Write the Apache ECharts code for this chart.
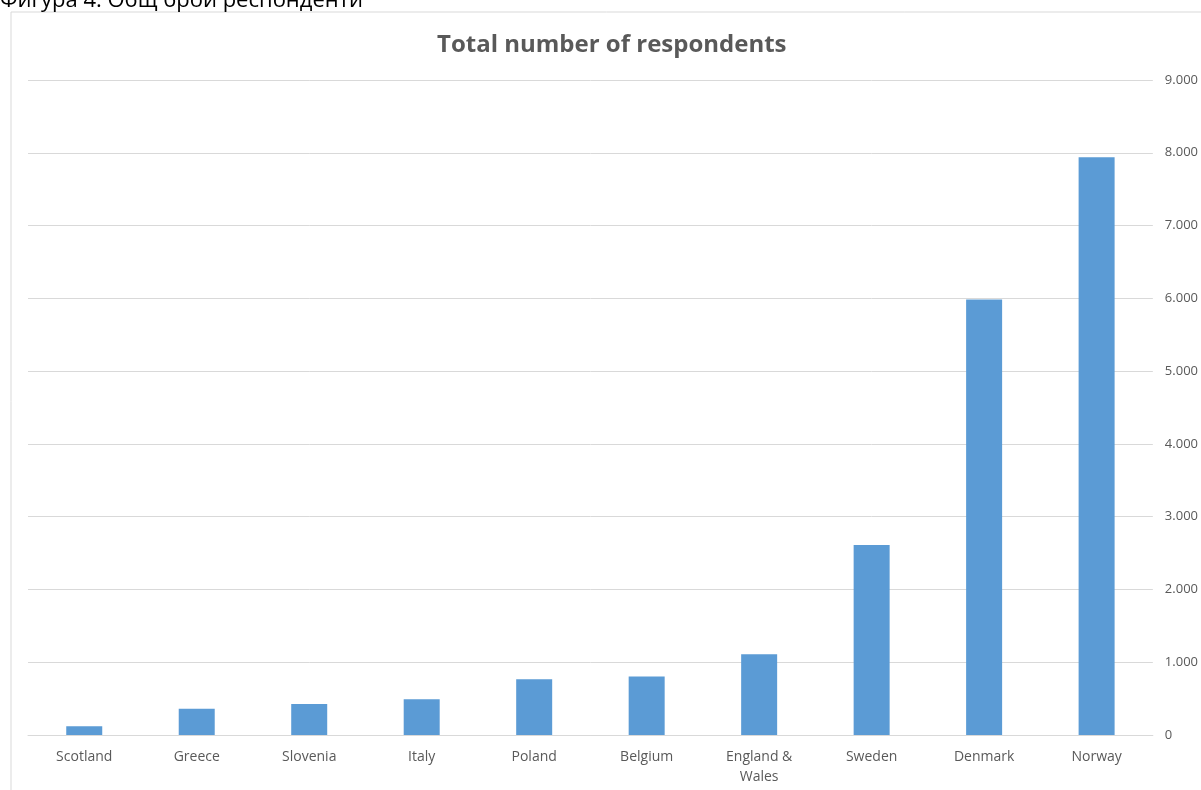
<!DOCTYPE html>
<html><head><meta charset="utf-8">
<script src="https://cdn.jsdelivr.net/npm/echarts@6/dist/echarts.min.js"></script>
<style>html,body{margin:0;padding:0;background:#fff}#c{width:1201px;height:790px}</style>
</head><body><div id="c"></div>
<script>
const categories = ['Scotland','Greece','Slovenia','Italy','Poland','Belgium','England &\nWales','Sweden','Denmark','Norway'];
const respondents = [120, 360, 425, 490, 765, 805, 1110, 2610, 5985, 7940];
const yTicks = [0,1000,2000,3000,4000,5000,6000,7000,8000,9000];
const chart = echarts.init(document.getElementById('c'));
const fmt = v => v === 0 ? '0' : String(v).replace(/\B(?=(\d{3})+(?!\d))/g, '.');
chart.setOption({
  animation:false,
  title:{text:'Total number of respondents',left:432,top:28,
    textStyle:{fontFamily:'Open Sans',fontWeight:'bold',fontSize:24,color:'#595959'}},
  graphic:[
    {type:'rect',shape:{x:11,y:12,width:1300,height:900},style:{fill:'none',stroke:'#d9d9d9',lineWidth:1},z:-1},
    {type:'text',left:0,top:-10,style:{text:'Фигура 4. Общ брой респонденти',font:'22px "Open Sans"',fill:'#000'}}
  ],
  grid:{left:28,right:48,top:80,bottom:55,containLabel:false},
  xAxis:{type:'category',data:categories,
    axisLine:{lineStyle:{color:'#d9d9d9'}},axisTick:{show:false},
    axisLabel:{color:'#595959',fontFamily:'Open Sans',fontSize:14,margin:12,lineHeight:20}},
  yAxis:{type:'value',position:'right',min:yTicks[0],max:yTicks[yTicks.length-1],interval:1000,
    axisLine:{show:false},axisTick:{show:false},
    splitLine:{lineStyle:{color:'#d9d9d9'}},
    axisLabel:{color:'#595959',fontFamily:'Open Sans',fontSize:13,margin:12,formatter:fmt}},
  series:[{type:'bar',data:respondents,barWidth:36,itemStyle:{color:'#5b9bd5'}}]
});
</script></body></html>
